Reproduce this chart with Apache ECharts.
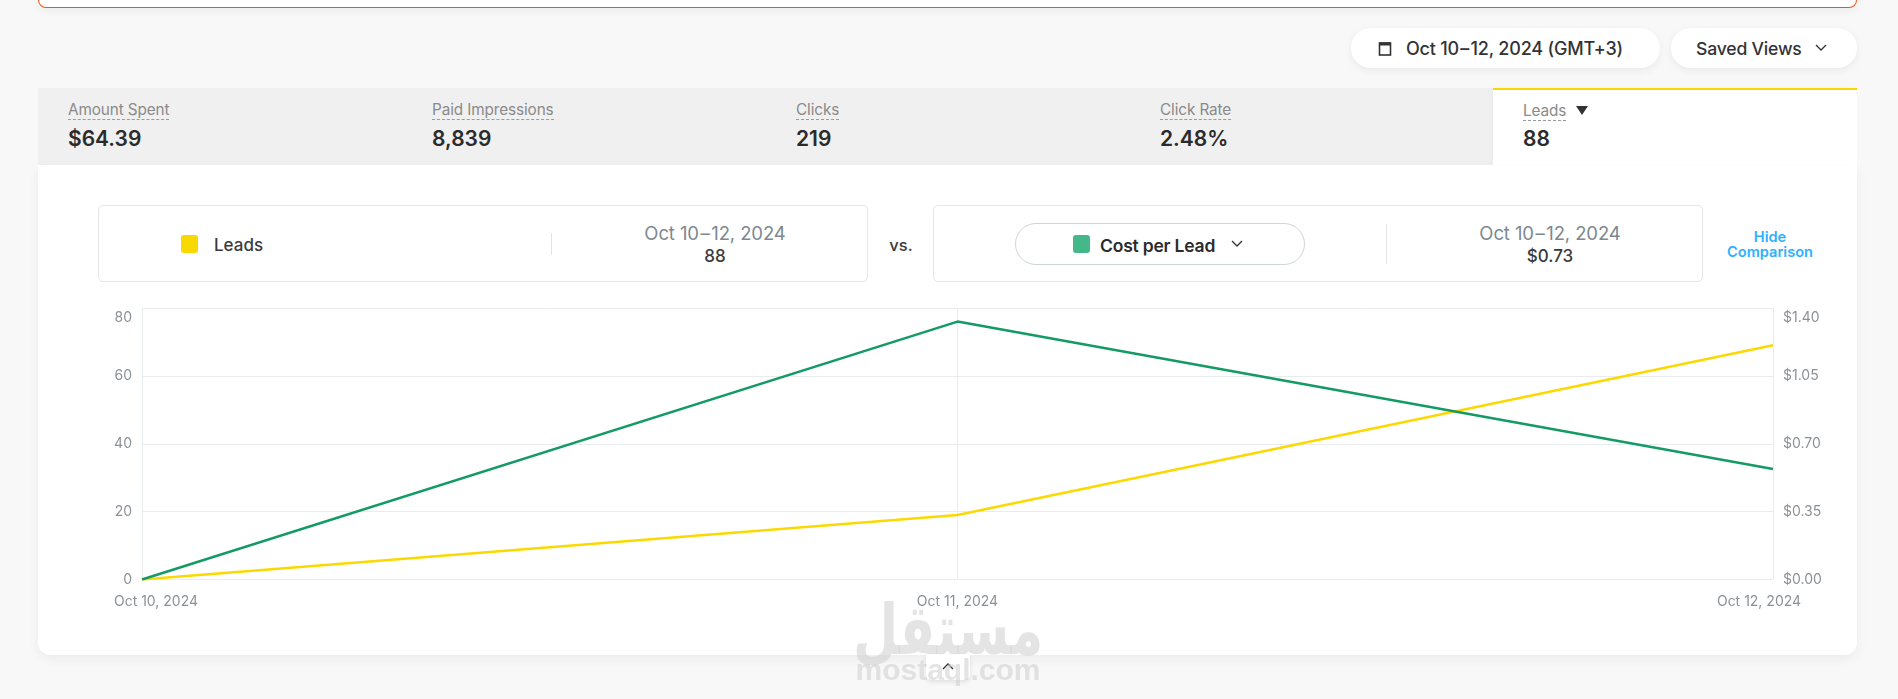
<!DOCTYPE html>
<html lang="en">
<head>
    <meta charset="UTF-8">
    <title>Leads report</title>
    <script src="https://cdn.jsdelivr.net/npm/echarts@6/dist/echarts.min.js"></script>
    <style>
        html, body { margin: 0; padding: 0; }
        body {
            width: 1898px;
            height: 699px;
            position: relative;
            overflow: hidden;
            background: #f8f8f8;
            font-family: Inter, 'Noto Sans', sans-serif;
            color: #2b2b2e;
        }
        .abs { position: absolute; white-space: nowrap; }
        .mid { transform: translateY(-50%); }
        .cen { transform: translate(-50%, -50%); }

        .alert {
            left: 38px; top: -20px; width: 1819px; height: 28px;
            background: #fff;
            border: 1px solid #e6581c;
            border-top: none;
            border-radius: 0 0 8px 8px;
            box-sizing: border-box;
            box-shadow: 0 3px 8px rgba(0,0,0,.05);
        }
        .pill-btn {
            top: 28px; height: 40px;
            background: #fff;
            border-radius: 20px;
            box-shadow: 0 3px 8px rgba(0,0,0,.06);
        }
        .btn-text { top: 48px; font-weight: 500; letter-spacing: -.2px; color: #333336; }

        .tabs { left: 38px; top: 88px; width: 1455px; height: 77px; background: #f0f0f0; }
        .card {
            left: 38px; top: 165px; width: 1819px; height: 490px;
            background: #fff;
            border-radius: 0 0 12px 12px;
            box-shadow: 0 4px 12px rgba(0,0,0,.05);
        }
        .active-tab {
            left: 1493px; top: 88px; width: 364px; height: 77px;
            background: #fff;
            border-top: 2px solid #f7d900;
            box-sizing: border-box;
            box-shadow: -3px 0 4px rgba(0,0,0,.02);
        }
        .kpi-label { font-size: 15.3px; color: #8a8a8a; border-bottom: 1px dashed #9a9a9a; line-height: 18px; letter-spacing: -.1px; }
        .kpi-value { font-size: 21px; font-weight: 600; color: #2b2b2e; }

        .cmp-box {
            top: 205px; height: 77px;
            border: 1px solid #e4e6e8;
            border-radius: 5px;
            box-sizing: border-box;
            background: #fff;
        }
        .swatch { width: 17px; height: 18px; top: 235px; border-radius: 3px; }
        .divider { width: 1px; background: #e2e4e6; }
        .range { font-size: 18.5px; color: #7d8891; font-weight: 400; letter-spacing: -.1px; }
        .range-val { font-size: 17px; font-weight: 500; color: #3a3a3d; }
        .hide-link { font-size: 14.6px; font-weight: 600; color: #2db0ff; }

        #chart { position: absolute; left: 60px; top: 290px; width: 1790px; height: 335px; }

        .collapse {
            left: 926px; top: 655px; width: 44px; height: 25px;
            background: #fff;
            border-radius: 0 0 5px 5px;
            box-shadow: 0 2px 5px rgba(0,0,0,.1);
        }
        .watermark { color: rgba(205,205,205,.55); font-weight: 700; }
    </style>
</head>
<body>
<div class="abs alert"></div>

<div class="abs pill-btn" style="left:1351px;width:309px"></div>
<svg class="abs" style="left:1378px;top:40px" width="14" height="16" viewBox="0 0 14 16">
    <rect x="1.5" y="3" width="11" height="12" fill="none" stroke="#333" stroke-width="1.6"/>
    <rect x="1.5" y="2.5" width="11" height="3" fill="#333"/>
</svg>
<div class="abs mid btn-text" style="left:1406px;font-size:18px" id="dateBtn"></div>
<div class="abs pill-btn" style="left:1671px;width:186px"></div>
<div class="abs mid btn-text" style="left:1696px;font-size:17.6px">Saved Views</div>
<svg class="abs" style="left:1815px;top:44px" width="12" height="8" viewBox="0 0 12 8"><path d="M1 1l5 5 5-5" fill="none" stroke="#333" stroke-width="1.3"/></svg>

<div class="abs tabs"></div>
<div class="abs card"></div>
<div class="abs active-tab"></div>
<div id="kpis"></div>
<svg class="abs" style="left:1576px;top:106px" width="12" height="9" viewBox="0 0 12 9"><path d="M0 0h12L6 9z" fill="#333"/></svg>

<div class="abs cmp-box" style="left:98px;width:770px"></div>
<div class="abs swatch" style="left:181px;background:#f7d900"></div>
<div class="abs mid" style="left:214px;top:245px;font-size:17px;font-weight:500;color:#3a3a3d">Leads</div>
<div class="abs divider" style="left:551px;top:233px;height:22px"></div>
<div class="abs cen range" style="left:715px;top:233px" id="range1"></div>
<div class="abs cen range-val" style="left:715px;top:256px" id="total1"></div>

<div class="abs cen" style="left:901px;top:245px;font-size:16.5px;font-weight:500;color:#3a3a3d">vs.</div>

<div class="abs cmp-box" style="left:933px;width:770px"></div>
<div class="abs" style="left:1015px;top:223px;width:290px;height:42px;border:1px solid #cfd6d6;border-radius:21px;box-sizing:border-box"></div>
<div class="abs swatch" style="left:1073px;background:#44b888"></div>
<div class="abs mid" style="left:1100px;top:245px;font-size:17.5px;font-weight:600;letter-spacing:-.2px">Cost per Lead</div>
<svg class="abs" style="left:1231px;top:240px" width="12" height="8" viewBox="0 0 12 8"><path d="M1 1l5 5 5-5" fill="none" stroke="#333" stroke-width="1.3"/></svg>
<div class="abs divider" style="left:1386px;top:224px;height:40px"></div>
<div class="abs cen range" style="left:1550px;top:233px" id="range2"></div>
<div class="abs cen range-val" style="left:1550px;top:256px" id="total2"></div>

<div class="abs cen hide-link" style="left:1770px;top:237px">Hide</div>
<div class="abs cen hide-link" style="left:1770px;top:252px">Comparison</div>

<div id="chart"></div>

<div class="abs collapse"></div>
<svg class="abs" style="left:942px;top:662px" width="12" height="8" viewBox="0 0 12 8"><path d="M1 7l5-5 5 5" fill="none" stroke="#333" stroke-width="1.4"/></svg>

<div class="abs watermark" style="left:948px;top:630px;font-size:52px;font-family:'DejaVu Sans',sans-serif;transform:translate(-50%,-50%) scale(1,1.35)" dir="rtl">مستقل</div>
<div class="abs cen watermark" style="left:948px;top:670px;font-size:30px;font-family:'Liberation Sans',sans-serif">mostaql.com</div>

<script type="text/javascript">
    var dateRange = 'Oct 10\u200a\u2013\u200a12, 2024';
    var kpiLabels = ['Amount Spent', 'Paid Impressions', 'Clicks', 'Click Rate', 'Leads'];
    var kpiValues = ['$64.39', '8,839', '219', '2.48%', '88'];
    var kpiLeft = [68, 432, 796, 1160, 1523];

    var days = ['Oct 10, 2024', 'Oct 11, 2024', 'Oct 12, 2024'];
    var leads = [0, 19, 69];
    var costPerLead = [0, 1.33, 0.57];

    // header bits
    document.getElementById('dateBtn').textContent = 'Oct 10\u200a\u2013\u200a12, 2024 (GMT+3)';
    document.getElementById('range1').textContent = dateRange;
    document.getElementById('range2').textContent = dateRange;
    document.getElementById('total1').textContent = '88';
    document.getElementById('total2').textContent = '$0.73';

    var html = '';
    kpiLabels.forEach(function (label, i) {
        var shift = i === 4 ? 1 : 0;
        html += '<div class="abs kpi-label" style="left:' + kpiLeft[i] + 'px;top:' + (101 + shift) + 'px">' + label + '</div>';
        html += '<div class="abs mid kpi-value" style="left:' + kpiLeft[i] + 'px;top:138px">' + kpiValues[i] + '</div>';
    });
    document.getElementById('kpis').innerHTML = html;

    var gridColor = '#e9ecef';
    var labelColor = '#8c9196';

    var myChart = echarts.init(document.getElementById('chart'));
    myChart.setOption({
        animation: false,
        grid: { left: 82, top: 18, width: 1631, height: 271.5 },
        xAxis: {
            type: 'category',
            boundaryGap: false,
            data: days,
            axisLine: { show: false },
            axisTick: { show: false },
            splitLine: { show: true, lineStyle: { color: gridColor, width: 1 } },
            axisLabel: {
                margin: 15,
                interval: 0,
                showMinLabel: true,
                showMaxLabel: true,
                // the two end dates sit pulled in toward the plot
                formatter: function (value, index) {
                    var style = index === 0 ? 'first' : (index === days.length - 1 ? 'last' : 'plain');
                    return '{' + style + '|' + value + '}';
                },
                rich: {
                    first: { padding: [0, 0, 0, 28], color: labelColor, fontFamily: 'Inter', fontSize: 14 },
                    last: { padding: [0, 28, 0, 0], color: labelColor, fontFamily: 'Inter', fontSize: 14 },
                    plain: { color: labelColor, fontFamily: 'Inter', fontSize: 14 }
                }
            }
        },
        yAxis: [
            {
                type: 'value',
                min: 0,
                max: 80,
                interval: 20,
                axisLine: { show: false },
                axisTick: { show: false },
                splitLine: { lineStyle: { color: gridColor, width: 1 } },
                axisLabel: {
                    margin: 10,
                    color: labelColor,
                    fontFamily: 'Inter',
                    fontSize: 14,
                    lineHeight: 20,
                    verticalAlignMaxLabel: 'top'
                }
            },
            {
                type: 'value',
                min: 0,
                max: 1.4,
                interval: 0.35,
                position: 'right',
                axisLine: { show: false },
                axisTick: { show: false },
                splitLine: { show: false },
                axisLabel: {
                    margin: 10,
                    color: labelColor,
                    fontFamily: 'Inter',
                    fontSize: 14,
                    lineHeight: 20,
                    verticalAlignMaxLabel: 'top',
                    formatter: function (v) { return '$' + v.toFixed(2); }
                }
            }
        ],
        series: [
            {
                name: 'Leads',
                type: 'line',
                yAxisIndex: 0,
                data: leads,
                showSymbol: false,
                lineStyle: { color: '#fbd900', width: 2.5 }
            },
            {
                name: 'Cost per Lead',
                type: 'line',
                yAxisIndex: 1,
                data: costPerLead,
                showSymbol: false,
                lineStyle: { color: '#149a64', width: 2.5 }
            }
        ]
    });
</script>
</body>
</html>
